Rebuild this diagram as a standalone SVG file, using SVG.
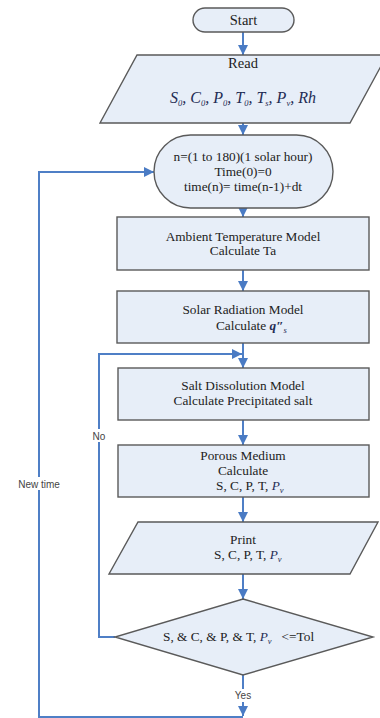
<svg xmlns="http://www.w3.org/2000/svg" width="380" height="718" viewBox="0 0 380 718">
<style>
.node{fill:#e7eef8;stroke:#5a5a5a;stroke-width:1.4}
.t{font-family:"Liberation Serif",serif;font-size:13.3px;fill:#222;text-anchor:middle}
.m{font-family:"Liberation Serif",serif;font-style:italic;fill:#1f2d55}
.sub{font-size:8.5px}
.c{fill:none;stroke:#4f7fc6;stroke-width:2}
.lbl{font-family:"Liberation Sans",Arial,sans-serif;font-size:10px;fill:#444;text-anchor:middle}
</style>
<defs>
<marker id="ah" viewBox="0 0 10 10" refX="10" refY="5" markerWidth="10" markerHeight="10" markerUnits="userSpaceOnUse" orient="auto">
<path d="M0,0 L10,5 L0,10 Z" fill="#4a7bc4"/>
</marker>
</defs>
<rect width="380" height="718" fill="#ffffff"/>
<g id="connectors">
<path class="c" d="M243,32 V55" marker-end="url(#ah)"/>
<path class="c" d="M243,123 V135" marker-end="url(#ah)"/>
<path class="c" d="M243,208 V217" marker-end="url(#ah)"/>
<path class="c" d="M243,270 V291" marker-end="url(#ah)"/>
<path class="c" d="M243,343 V368" marker-end="url(#ah)"/>
<path class="c" d="M243,420 V445" marker-end="url(#ah)"/>
<path class="c" d="M243,497 V522" marker-end="url(#ah)"/>
<path class="c" d="M243,574 V599" marker-end="url(#ah)"/>
<path class="c" d="M115,637 H99 V354 H242" marker-end="url(#ah)" stroke="#6f98d4"/>
<path class="c" d="M243,675 V716" marker-end="url(#ah)"/>
<path class="c" d="M243,717 H39 V172 H154" marker-end="url(#ah)" stroke="#6f98d4"/>
<rect x="91" y="429" width="17" height="13" fill="#fff"/>
<text class="lbl" x="99" y="440">No</text>
<rect x="17" y="477" width="44" height="13" fill="#fff"/>
<text class="lbl" x="39" y="488">New time</text>
<rect x="229" y="689" width="28" height="13" fill="#fff"/>
<text class="lbl" x="243" y="699">Yes</text>
</g>
<g id="start">
<rect class="node" x="193" y="8" width="101" height="24" rx="12"/>
<text class="t" x="243.5" y="25" style="font-size:14.5px">Start</text>
</g>
<g id="read">
<polygon class="node" points="137,55 387,55 350,123 100,123"/>
<text class="t" x="243" y="68" style="font-size:14.5px">Read</text>
<text class="m" x="243" y="103" style="font-size:16px;word-spacing:0" text-anchor="middle">S<tspan class="sub" dy="3">0</tspan><tspan dy="-3">, C</tspan><tspan class="sub" dy="3">0</tspan><tspan dy="-3">, P</tspan><tspan class="sub" dy="3">0</tspan><tspan dy="-3">, T</tspan><tspan class="sub" dy="3">0</tspan><tspan dy="-3">, T</tspan><tspan class="sub" dy="3">s</tspan><tspan dy="-3">, P</tspan><tspan class="sub" dy="3">v</tspan><tspan dy="-3">, Rh</tspan></text>
</g>
<g id="loop">
<rect class="node" x="154" y="135" width="179" height="73" rx="36.5"/>
<text class="t" x="243" y="161">n=(1 to 180)(1 solar hour)</text>
<text class="t" x="243" y="176">Time(0)=0</text>
<text class="t" x="243" y="191">time(n)= time(n-1)+dt</text>
</g>
<g id="ambient">
<rect class="node" x="117" y="217" width="252" height="53"/>
<text class="t" x="243" y="241">Ambient Temperature Model</text>
<text class="t" x="243" y="255">Calculate Ta</text>
</g>
<g id="solar">
<rect class="node" x="117" y="291" width="252" height="52"/>
<text class="t" x="243" y="314">Solar Radiation Model</text>
<text class="t" x="216" y="330" style="text-anchor:start">Calculate <tspan class="m" style="font-weight:bold">q″</tspan><tspan class="m sub" dy="3">s</tspan></text>
</g>
<g id="salt">
<rect class="node" x="118" y="368" width="251" height="52"/>
<text class="t" x="243" y="390">Salt Dissolution Model</text>
<text class="t" x="243" y="405">Calculate Precipitated salt</text>
</g>
<g id="porous">
<rect class="node" x="118" y="445" width="251" height="52"/>
<text class="t" x="243" y="460">Porous Medium</text>
<text class="t" x="243" y="475">Calculate</text>
<text class="t" x="216" y="490" style="text-anchor:start">S, C, P, T, <tspan class="m">P</tspan><tspan class="m sub" dy="3">v</tspan></text>
</g>
<g id="print">
<polygon class="node" points="138,522 378,522 350,574 109,574"/>
<text class="t" x="243" y="544">Print</text>
<text class="t" x="214" y="559" style="text-anchor:start">S, C, P, T, <tspan class="m">P</tspan><tspan class="m sub" dy="3">v</tspan></text>
</g>
<g id="decision">
<polygon class="node" points="243,599 373,637 243,675 115,637"/>
<text class="t" x="163" y="641" style="text-anchor:start">S, &amp; C, &amp; P, &amp; T, <tspan class="m">P</tspan><tspan class="m sub" dy="3">v</tspan><tspan dy="-3" xml:space="preserve">   &lt;=Tol</tspan></text>
</g>
</svg>
